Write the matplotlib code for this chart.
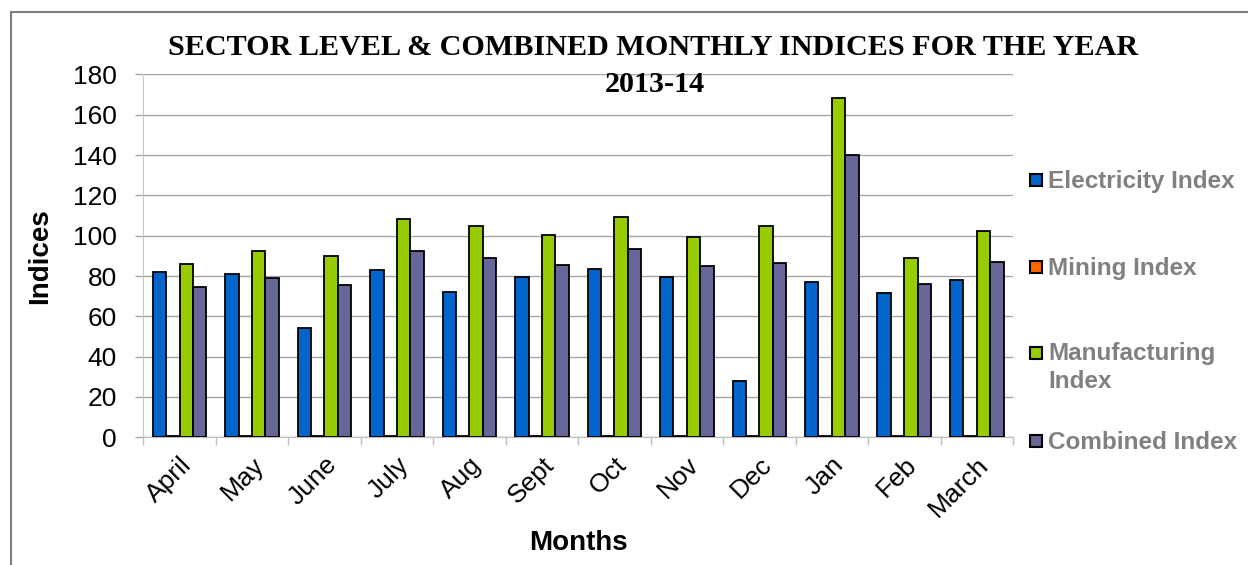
import numpy as np
import matplotlib.pyplot as plt
from matplotlib.patches import Rectangle

months = ['April', 'May', 'June', 'July', 'Aug', 'Sept', 'Oct', 'Nov', 'Dec', 'Jan', 'Feb', 'March']
electricity = [82, 81, 54, 83, 72, 79.5, 83.5, 79.5, 28, 77, 71.5, 78]
mining = [0.6, 0.6, 0.6, 0.6, 0.6, 0.6, 0.6, 0.6, 0.6, 0.6, 0.6, 0.6]
manufacturing = [86, 92.5, 90, 108.5, 105, 100.5, 109.5, 99.5, 105, 168.5, 89, 102.5]
combined = [74.5, 79, 75.5, 92.3, 89, 85.5, 93.3, 85, 86.3, 140, 76, 87]

series = [
    ('Electricity Index', electricity, '#0066CC'),
    ('Mining Index', mining, '#FF6600'),
    ('Manufacturing\nIndex', manufacturing, '#99CC00'),
    ('Combined Index', combined, '#666699'),
]

plt.rcParams['font.family'] = ['Liberation Sans', 'DejaVu Sans']

W, H = 1248, 565
fig = plt.figure(figsize=(W / 100, H / 100), dpi=100)
ax = fig.add_axes([143.3 / W, 1 - 437.3 / H, (1013 - 143.3) / W, (437.3 - 74.4) / H])

x = np.arange(len(months))
bw = 0.185
for i, (name, vals, col) in enumerate(series):
    ax.bar(x + (i - 1.5) * bw, vals, bw, color=col, edgecolor='black', linewidth=1.3, zorder=3)

ax.set_xlim(-0.5, len(months) - 0.5)
ax.set_ylim(0, 180)
ax.set_yticks(range(0, 181, 20))
ax.yaxis.grid(True, color='#A6A6A6', linewidth=1.0, zorder=0)
ax.set_axisbelow(True)

# category labels at centres, tick marks at boundaries
ax.set_xticks(x)
ax.set_xticklabels(months, rotation=45, ha='right', va='top', rotation_mode='anchor')
ax.set_xticks(np.arange(-0.5, len(months)), minor=True)
ax.tick_params(axis='x', which='major', length=0, pad=11, labelsize=19)
ax.tick_params(axis='x', which='minor', length=6, width=1, color='#BFBFBF')
ax.tick_params(axis='y', length=6, width=1, color='#A6A6A6', pad=13, labelsize=19)

for s in ['top', 'right']:
    ax.spines[s].set_visible(False)
ax.spines['left'].set_color('#C8C8C8')
ax.spines['bottom'].set_color('#BFBFBF')

ax.set_xlabel('Months', fontsize=20, fontweight='bold', labelpad=6)
ax.set_ylabel('Indices', fontsize=20, fontweight='bold', labelpad=14)

fig.text(653 / W, 1 - 55 / H, 'SECTOR LEVEL & COMBINED MONTHLY INDICES FOR THE YEAR',
         family='Liberation Serif', fontweight='bold', fontsize=21.7, ha='center', va='baseline')
fig.text(655 / W, 1 - 92 / H, '2013-14',
         family='Liberation Serif', fontweight='bold', fontsize=21.7, ha='center', va='baseline')

# legend drawn by hand to match spacing
leg_y = [179, 266, 352, 440]
for (name, vals, col), yy in zip(series, leg_y):
    fig.patches.append(Rectangle((1030 / W, 1 - (yy + 6.5) / H), 12 / W, 12 / H, transform=fig.transFigure,
                                 facecolor=col, edgecolor='black', linewidth=1.5))
    if '\n' in name:
        fig.text(1048 / W, 1 - (yy - 10) / H, name, fontsize=17.5, fontweight='bold', color='#808080',
                 ha='left', va='top', linespacing=1.25)
    else:
        fig.text(1048 / W, 1 - yy / H, name, fontsize=17.5, fontweight='bold', color='#808080',
                 ha='left', va='center_baseline')

# chart frame
fig.patches.append(Rectangle((11 / W, -0.05), 1.1, 1 - 12 / H + 0.05, transform=fig.transFigure,
                             fill=False, edgecolor='#7F7F7F', linewidth=1.5))

fig.savefig('out.png', dpi=100)
